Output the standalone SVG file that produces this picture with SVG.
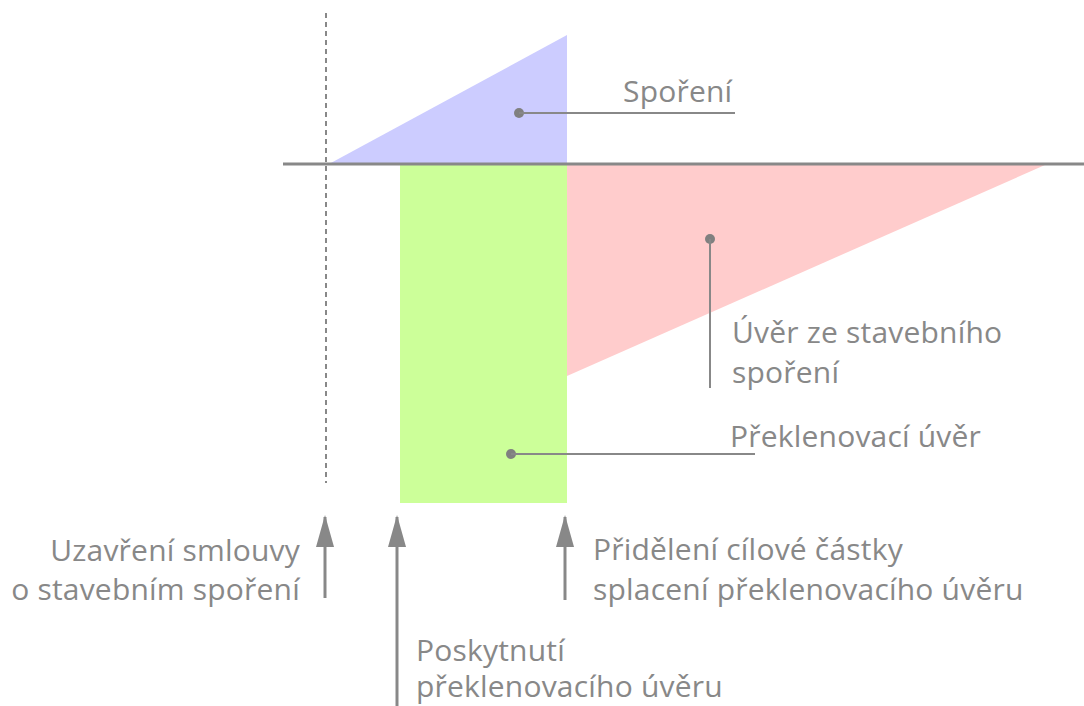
<svg xmlns="http://www.w3.org/2000/svg" width="1084" height="706" viewBox="0 0 1084 706">
<style>
.t{font-family:"Open Sans","Noto Sans",sans-serif;font-size:30px;fill:#888888;letter-spacing:0.2px}
.ln{stroke:#888888;stroke-width:2;fill:none}
.dot{fill:#808080}
.ar{stroke:#888888;stroke-width:3;fill:none}
</style>
<defs>
<marker id="ah" viewBox="0 0 32 18" refX="30" refY="9" markerWidth="32" markerHeight="18" markerUnits="userSpaceOnUse" orient="auto">
<path d="M0,0 L32,9 L0,18 Z" fill="#888888"/>
</marker>
</defs>
<rect width="1084" height="706" fill="#ffffff"/>
<g id="savings">
<polygon points="329,164 567,35 567,164" fill="#ccccff"/>
</g>
<g id="bridge-loan">
<rect x="400" y="165" width="167" height="338" fill="#ccff99"/>
</g>
<g id="building-loan">
<polygon points="567,165 1045,165 567,376" fill="#ffcccc"/>
</g>
<g id="axes">
<line x1="326" y1="13" x2="326" y2="483" stroke="#888888" stroke-width="2" stroke-dasharray="5,4"/>
<line x1="283" y1="164" x2="1084" y2="164" stroke="#888888" stroke-width="3"/>
</g>
<g id="connectors">
<circle class="dot" cx="519" cy="113" r="5"/>
<line class="ln" x1="519" y1="113" x2="735" y2="113"/>
<circle class="dot" cx="710" cy="239" r="5"/>
<line class="ln" x1="710" y1="239" x2="710" y2="388"/>
<circle class="dot" cx="511" cy="454" r="5"/>
<line class="ln" x1="511" y1="454" x2="755" y2="454"/>
<line class="ar" x1="325" y1="598" x2="325" y2="517" marker-end="url(#ah)"/>
<line class="ar" x1="397" y1="706" x2="397" y2="517" marker-end="url(#ah)"/>
<line class="ar" x1="565" y1="600" x2="565" y2="517" marker-end="url(#ah)"/>
</g>
<g id="labels">
<text class="t" x="623" y="102">Spoření</text>
<text class="t" x="732" y="343">Úvěr ze stavebního</text>
<text class="t" x="732" y="383">spoření</text>
<text class="t" x="730" y="447">Překlenovací úvěr</text>
<text class="t" x="300" y="561" text-anchor="end">Uzavření smlouvy</text>
<text class="t" x="300" y="600" text-anchor="end">o stavebním spoření</text>
<text class="t" x="593" y="560">Přidělení cílové částky</text>
<text class="t" x="593" y="600">splacení překlenovacího úvěru</text>
<text class="t" x="416" y="661">Poskytnutí</text>
<text class="t" x="416" y="697">překlenovacího úvěru</text>
</g>
</svg>
